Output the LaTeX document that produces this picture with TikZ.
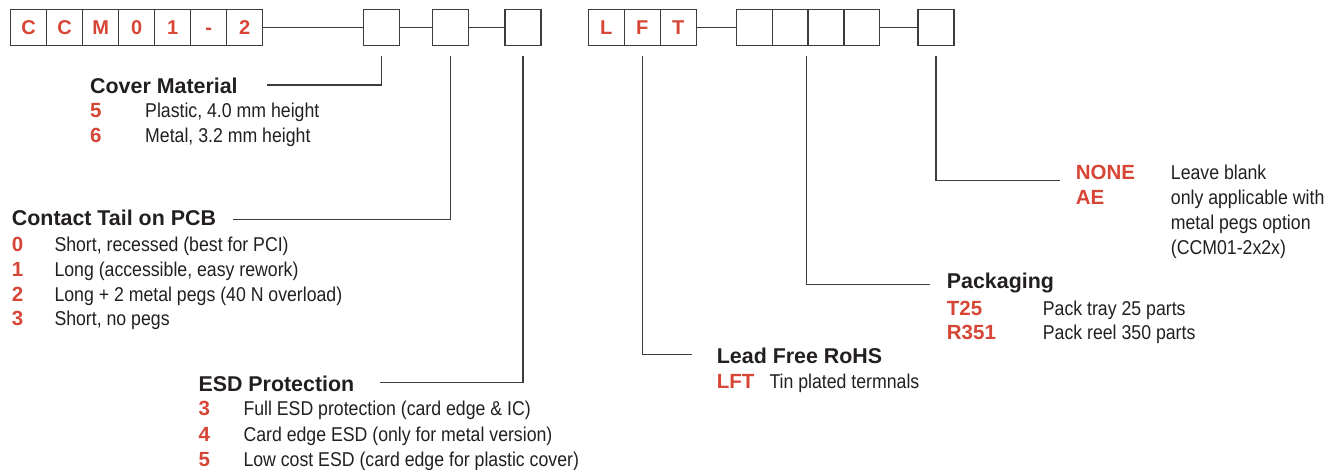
\documentclass[tikz,border=0pt]{standalone}
\usepackage{fontspec}
\setmainfont{Liberation Sans}
\newfontfamily\condfont[FakeStretch=0.885]{Liberation Sans}
\definecolor{cred}{RGB}{214,69,53}
\definecolor{ink}{RGB}{35,31,32}
\definecolor{linec}{RGB}{60,60,60}
\begin{document}
\begin{tikzpicture}[x=1pt,y=-1pt,
  cell/.style={draw=linec, line width=1.5pt, minimum width=36pt, minimum height=35.8pt,
    inner sep=0pt, outer sep=0pt, font=\fontsize{20}{24}\selectfont\bfseries, text=cred},
  pcell/.style={cell, minimum width=35.7pt},
  ttl/.style={anchor=base west, inner sep=0pt, font=\fontsize{21.4}{25}\selectfont\bfseries, text=ink},
  code/.style={anchor=base west, inner sep=0pt, font=\fontsize{20.5}{24}\selectfont\bfseries, text=cred},
  desc/.style={anchor=base west, inner sep=0pt, font=\condfont\fontsize{20}{24}\selectfont, text=ink},
  conn/.style={draw=linec, line width=1.2pt}]
\useasboundingbox (0,0) rectangle (1342,469);

% top row
\node[cell] (g1) at (28.7,27.4) {C};
\node[cell] (g2) at (64.7,27.4) {C};
\node[cell] (g3) at (100.7,27.4) {M};
\node[cell] (g4) at (136.7,27.4) {0};
\node[cell] (g5) at (172.7,27.4) {1};
\node[cell] (g6) at (208.7,27.4) {\vphantom{C}-};
\node[cell] (g7) at (244.7,27.4) {2};
\node[cell] (bA) at (381.5,27.4) {};
\node[cell] (bB) at (450.5,27.4) {};
\node[cell] (bC) at (523,27.4) {};
\node[cell] (l1) at (606.3,27.4) {L};
\node[cell] (l2) at (642.3,27.4) {F};
\node[cell] (l3) at (678.3,27.4) {T};
\node[pcell] (p1) at (754.55,27.4) {};
\node[pcell] (p2) at (790.25,27.4) {};
\node[pcell] (p3) at (825.95,27.4) {};
\node[pcell] (p4) at (861.65,27.4) {};
\node[cell] (bE) at (936,27.4) {};

\draw[conn] (g7.east) -- (bA.west);
\draw[conn] (bA.east) -- (bB.west);
\draw[conn] (bB.east) -- (bC.west);
\draw[conn] (l3.east) -- (p1.west);
\draw[conn] (p4.east) -- (bE.west);

% leader end points
\coordinate (cmE) at (266.7,85);
\coordinate (ctE) at (233.3,219.3);
\coordinate (esE) at (380,382.7);
\coordinate (lfE) at (691.7,354.3);
\coordinate (pkE) at (930,284.3);
\coordinate (nnE) at (1060,180.7);

\draw[conn] ([yshift=-11pt]bA.south) |- (cmE);
\draw[conn] ([yshift=-11pt]bB.south) |- (ctE);
\draw[conn] ([yshift=-11pt]bC.south) |- (esE);
\draw[conn] ([yshift=-11pt]l2.south) |- (lfE);
\draw[conn] ([yshift=-11pt,xshift=-2pt]p2.south east) |- (pkE);
\draw[conn] ([yshift=-11pt]bE.south) |- (nnE);

% Cover material
\node[ttl] (cmT) at (90,93.3) {Cover Material};
\node[code] (cm5) at (90,117.7) {5};
\node[desc] (cm5d) at (145,117.7) {Plastic, 4.0 mm height};
\node[code] (cm6) at (90,142.7) {6};
\node[desc] (cm6d) at (145,142.7) {Metal, 3.2 mm height};

% Contact tail
\node[ttl] (ctT) at (11.7,225) {Contact Tail on PCB};
\node[code] (ct0) at (11.7,251) {0};
\node[desc] (ct0d) at (54.3,251) {Short, recessed (best for PCI)};
\node[code] (ct1) at (11.7,276) {1};
\node[desc] (ct1d) at (54.3,276) {Long (accessible, easy rework)};
\node[code] (ct2) at (11.7,301) {2};
\node[desc] (ct2d) at (54.3,301) {Long + 2 metal pegs (40 N overload)};
\node[code] (ct3) at (11.7,325.7) {3};
\node[desc] (ct3d) at (54.3,325.7) {Short, no pegs};

% ESD
\node[ttl] (esT) at (198.3,391.7) {ESD Protection};
\node[code] (es3) at (198.3,415) {3};
\node[desc] (es3d) at (243.3,415) {Full ESD protection (card edge \& IC)};
\node[code] (es4) at (198.3,441) {4};
\node[desc] (es4d) at (243.3,441) {Card edge ESD (only for metal version)};
\node[code] (es5) at (198.3,466) {5};
\node[desc] (es5d) at (243.3,466) {Low cost ESD (card edge for plastic cover)};

% Lead free
\node[ttl] (lfT) at (716.7,363.3) {Lead Free RoHS};
\node[code] (lfc) at (716.7,388.3) {LFT};
\node[desc] (lfd) at (769.3,388.3) {Tin plated termnals};

% Packaging
\node[ttl] (pkT) at (946.7,288.3) {Packaging};
\node[code] (pk1) at (946.7,315) {T25};
\node[desc] (pk1d) at (1042.7,315) {Pack tray 25 parts};
\node[code] (pk2) at (946.7,339.3) {R351};
\node[desc] (pk2d) at (1042.7,339.3) {Pack reel 350 parts};

% Option
\node[code] (nn1) at (1075.7,179.3) {NONE};
\node[desc] (nn1d) at (1170.7,179.3) {Leave blank};
\node[code] (nn2) at (1075.7,204.3) {AE};
\node[desc] (nn2d) at (1170.7,204.3) {only applicable with};
\node[desc] (nn3d) at (1170.7,229.3) {metal pegs option};
\node[desc] (nn4d) at (1170.7,254) {(CCM01-2x2x)};
\end{tikzpicture}
\end{document}
